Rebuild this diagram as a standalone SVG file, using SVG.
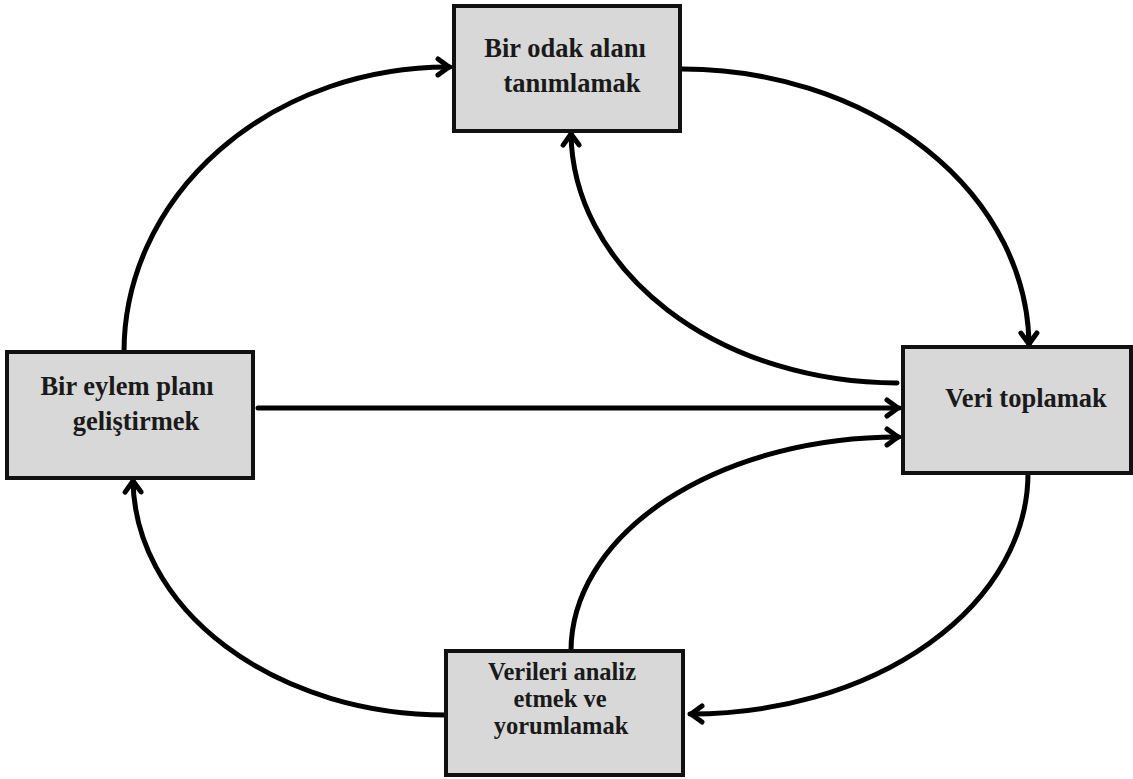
<svg xmlns="http://www.w3.org/2000/svg" width="1133" height="779" viewBox="0 0 1133 779">
<style>
.box{fill:#d8d8d8;stroke:#111;stroke-width:4}
.lbl{font-family:"Liberation Serif","Times New Roman",serif;font-weight:bold;font-size:26.5px;fill:#1a1a1a;text-anchor:middle}
.sm{font-size:24.5px}
.con{fill:none;stroke:#000;stroke-width:5;stroke-linecap:round;marker-end:url(#arr)}
</style>
<defs>
<marker id="arr" markerUnits="userSpaceOnUse" viewBox="-16 -12 20 24" refX="1" refY="0" markerWidth="20" markerHeight="24" orient="auto">
<path d="M-11,-8 L0,0 L-11,8" fill="none" stroke="#000" stroke-width="5" stroke-linecap="round" stroke-linejoin="round"/>
</marker>
</defs>
<rect width="1133" height="779" fill="#fff"/>
<g id="connectors">
<path class="con" d="M124,352 A324,285 0 0 1 450,67"/>
<path class="con" d="M682,69 A347,278 0 0 1 1029,345"/>
<path class="con" d="M897,383 A326,252 0 0 1 571,133"/>
<path class="con" d="M258,408 L899,408"/>
<path class="con" d="M571,651 A327,214 0 0 1 899,437"/>
<path class="con" d="M1028,473 A338,241 0 0 1 690,714"/>
<path class="con" d="M446,715 A313,237 0 0 1 133,480"/>
</g>
<g id="node-odak">
<rect class="box" x="454" y="6" width="226" height="125"/>
<text class="lbl" x="565" y="57">Bir odak alanı</text>
<text class="lbl" x="572" y="92">tanımlamak</text>
</g>
<g id="node-eylem">
<rect class="box" x="7" y="352" width="246" height="126"/>
<text class="lbl" x="127" y="395">Bir eylem planı</text>
<text class="lbl" x="136" y="430">geliştirmek</text>
</g>
<g id="node-veri">
<rect class="box" x="903" y="347" width="228" height="126"/>
<text class="lbl" x="1026" y="407">Veri toplamak</text>
</g>
<g id="node-analiz">
<rect class="box" x="446" y="651" width="237" height="124"/>
<text class="lbl sm" x="562" y="680">Verileri analiz</text>
<text class="lbl sm" x="560" y="707">etmek ve</text>
<text class="lbl sm" x="561" y="734">yorumlamak</text>
</g>
</svg>
